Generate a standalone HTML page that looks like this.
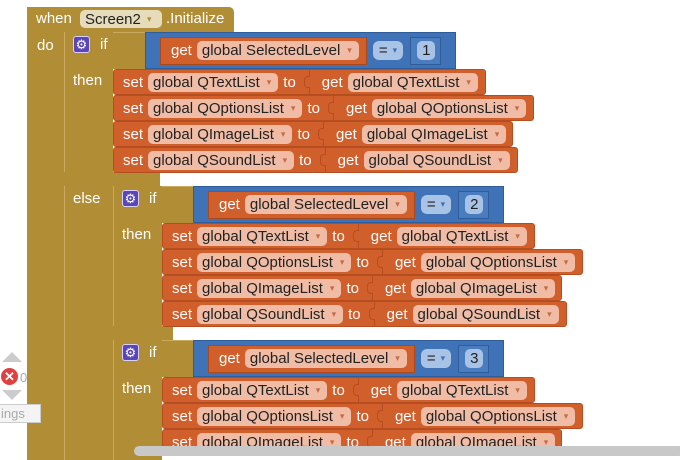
<!DOCTYPE html>
<html><head><meta charset="utf-8"><style>
*{box-sizing:border-box;margin:0;padding:0}
body{width:680px;height:460px;overflow:hidden;background:#fff;position:relative;font-family:"Liberation Sans",sans-serif;font-size:15px;color:#fff}
.a{position:absolute}
.g{position:absolute;background:#B18E36}
.lbl{position:absolute;color:#fff;font-size:15px}
.set{position:absolute;height:26px;background:#D15F2B;border:1px solid #B44E20;border-radius:3px;display:flex;align-items:center;padding-left:9px;white-space:nowrap}
.pill{background:#F0BCA5;color:#222;border-radius:5px;height:19px;line-height:19px;padding:0 7px 0 5px;margin:0 5px;font-size:15px}
.pill i{font-style:normal;color:#C66A44;font-size:9px;margin-left:7px;vertical-align:2px}
.get{height:26px;margin-left:13px;border-left:1px solid #B44E20;display:flex;align-items:center;padding-left:12px;flex:1;position:relative}
.get:before{content:"";position:absolute;left:-6px;top:7px;width:5px;height:10px;border:1px solid #B44E20;border-right:none;border-radius:4px 0 0 4px;background:#D15F2B}
.cmp{position:absolute;height:37px;background:#3F72B6;border:1px solid #2F5D99;display:flex;align-items:center;padding-left:14px}
.cget{height:28px;background:#D15F2B;border:1px solid #A84A1E;display:flex;align-items:center;padding-left:10px;padding-right:2px}
.eq{background:#A9C3E6;color:#222;border-radius:6px;height:19px;line-height:19px;padding:0 6px;margin-left:6px}
.eq i{font-style:normal;color:#3F72B6;font-size:9px;margin-left:5px;vertical-align:2px}
.num{height:28px;background:#4A7CC0;border:1px solid #2F5D99;margin-left:7px;display:flex;align-items:center;padding:0 5px 0 6px}
.num span{background:#A9C3E6;color:#222;border-radius:5px;padding:0 5px;height:19px;line-height:19px}
.gear{position:absolute;width:17px;height:17px;background:#5A47B5;border:1px solid #d8d0ff;border-radius:3px;color:#fff;font-size:13px;line-height:15px;text-align:center}
</style></head><body>
<div class="g" style="left:27px;top:7px;width:207px;height:25px;border-radius:5px 5px 0 0"></div>
<div class="g" style="left:27px;top:7px;width:37px;height:453px"></div>
<div class="lbl" style="left:36px;top:10px">when</div>
<div class="a" style="left:80px;top:10px;width:82px;height:18px;background:#E6DCBC;border-radius:5px;color:#222;padding-left:5px;line-height:18px">Screen2 <span style="color:#B18E36;font-size:9px;vertical-align:2px;margin-left:2px">▾</span></div>
<div class="lbl" style="left:166px;top:10px">.Initialize</div>
<div class="lbl" style="left:37px;top:37px">do</div>
<div class="g" style="left:64px;top:32px;width:86px;height:37px;border-left:1px solid #C9AA60;border-top:1px solid #C9AA60;border-radius:4px 0 0 0"></div>
<div class="g" style="left:64px;top:32px;width:49px;height:428px;border-left:1px solid #C9AA60"></div>
<div class="g" style="left:64px;top:172px;width:96px;height:14px"></div>
<div class="gear" style="left:73px;top:36px">⚙</div>
<div class="lbl" style="left:100px;top:36px">if</div>
<div class="lbl" style="left:73px;top:72px">then</div>
<div class="lbl" style="left:73px;top:190px">else</div>
<div class="cmp" style="left:145px;top:32px;width:311px">
<div class="cget">get<span class="pill">global SelectedLevel<i>▾</i></span></div>
<span class="eq">=<i>▾</i></span><div class="num"><span>1</span></div></div>
<div class="set" style="left:113px;top:69px;width:373px">set<span class="pill">global QTextList<i>▾</i></span>to<div class="get">get<span class="pill">global QTextList<i>▾</i></span></div></div>
<div class="set" style="left:113px;top:95px;width:421px">set<span class="pill">global QOptionsList<i>▾</i></span>to<div class="get">get<span class="pill">global QOptionsList<i>▾</i></span></div></div>
<div class="set" style="left:113px;top:121px;width:400px">set<span class="pill">global QImageList<i>▾</i></span>to<div class="get">get<span class="pill">global QImageList<i>▾</i></span></div></div>
<div class="set" style="left:113px;top:147px;width:405px">set<span class="pill">global QSoundList<i>▾</i></span>to<div class="get">get<span class="pill">global QSoundList<i>▾</i></span></div></div>
<div class="g" style="left:113px;top:186px;width:82px;height:37px;border-left:1px solid #C9AA60;border-top:1px solid #C9AA60;border-radius:4px 0 0 0"></div>
<div class="g" style="left:113px;top:186px;width:49px;height:154px;border-left:1px solid #C9AA60"></div>
<div class="g" style="left:113px;top:326px;width:60px;height:14px"></div>
<div class="gear" style="left:122px;top:190px">⚙</div>
<div class="lbl" style="left:149px;top:190px">if</div>
<div class="lbl" style="left:122px;top:226px">then</div>
<div class="cmp" style="left:193px;top:186px;width:311px">
<div class="cget">get<span class="pill">global SelectedLevel<i>▾</i></span></div>
<span class="eq">=<i>▾</i></span><div class="num"><span>2</span></div></div>
<div class="set" style="left:162px;top:223px;width:373px">set<span class="pill">global QTextList<i>▾</i></span>to<div class="get">get<span class="pill">global QTextList<i>▾</i></span></div></div>
<div class="set" style="left:162px;top:249px;width:421px">set<span class="pill">global QOptionsList<i>▾</i></span>to<div class="get">get<span class="pill">global QOptionsList<i>▾</i></span></div></div>
<div class="set" style="left:162px;top:275px;width:400px">set<span class="pill">global QImageList<i>▾</i></span>to<div class="get">get<span class="pill">global QImageList<i>▾</i></span></div></div>
<div class="set" style="left:162px;top:301px;width:405px">set<span class="pill">global QSoundList<i>▾</i></span>to<div class="get">get<span class="pill">global QSoundList<i>▾</i></span></div></div>
<div class="g" style="left:113px;top:340px;width:82px;height:37px;border-left:1px solid #C9AA60;border-top:1px solid #C9AA60;border-radius:4px 0 0 0"></div>
<div class="g" style="left:113px;top:340px;width:49px;height:120px;border-left:1px solid #C9AA60"></div>
<div class="gear" style="left:122px;top:344px">⚙</div>
<div class="lbl" style="left:149px;top:344px">if</div>
<div class="lbl" style="left:122px;top:380px">then</div>
<div class="cmp" style="left:193px;top:340px;width:311px">
<div class="cget">get<span class="pill">global SelectedLevel<i>▾</i></span></div>
<span class="eq">=<i>▾</i></span><div class="num"><span>3</span></div></div>
<div class="set" style="left:162px;top:377px;width:373px">set<span class="pill">global QTextList<i>▾</i></span>to<div class="get">get<span class="pill">global QTextList<i>▾</i></span></div></div>
<div class="set" style="left:162px;top:403px;width:421px">set<span class="pill">global QOptionsList<i>▾</i></span>to<div class="get">get<span class="pill">global QOptionsList<i>▾</i></span></div></div>
<div class="set" style="left:162px;top:429px;width:400px">set<span class="pill">global QImageList<i>▾</i></span>to<div class="get">get<span class="pill">global QImageList<i>▾</i></span></div></div>
<div class="a" style="left:2px;top:352px;width:0;height:0;border-left:10px solid transparent;border-right:10px solid transparent;border-bottom:10px solid #ccc"></div>
<div class="a" style="left:1px;top:368px;width:17px;height:17px;border-radius:50%;background:#E04040;color:#fff;font-size:13px;line-height:17px;text-align:center;font-weight:bold">✕</div>
<div class="a" style="left:20px;top:370px;color:#aaa;font-size:13px">0</div>
<div class="a" style="left:2px;top:390px;width:0;height:0;border-left:10px solid transparent;border-right:10px solid transparent;border-top:10px solid #ccc"></div>
<div class="a" style="left:-2px;top:404px;width:43px;height:19px;background:#f4f4f4;border:1px solid #ccc;color:#aaa;font-size:13px;line-height:17px;padding-left:2px">ings</div>
<div class="a" style="left:134px;top:446px;width:550px;height:10px;background:#C8C8C8;border-radius:5px"></div>
</body></html>
